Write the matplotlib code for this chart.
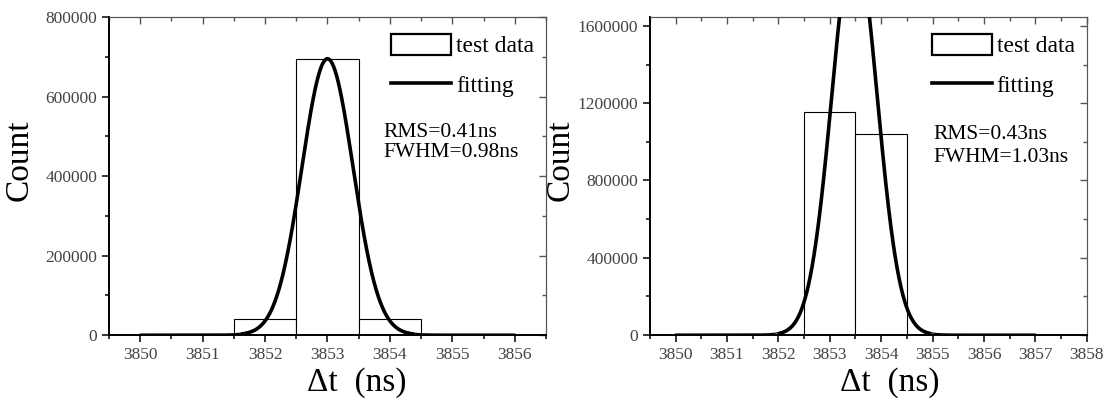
import numpy as np
import matplotlib.pyplot as plt
from matplotlib.ticker import MultipleLocator, FormatStrFormatter

plt.rcParams['font.family'] = ['Liberation Serif', 'DejaVu Serif']

# --- left panel: histogram + gaussian fit ---
left_edges = [3851.5, 3852.5, 3853.5]
left_counts = [40000, 695000, 40000]
left_fit = dict(center=3853.0, amp=695000, sigma=0.41)
left_range = (3850, 3856)
left_xlim = (3849.5, 3856.5)
left_ylim = (0, 800000)
left_text = ["RMS=0.41ns", "FWHM=0.98ns"]

# --- right panel ---
right_edges = [3852.5, 3853.5]
right_counts = [1155000, 1040000]
right_fit = dict(center=3853.48, amp=2050000, sigma=0.44)
right_range = (3850, 3857)
right_xlim = (3849.5, 3858)
right_ylim = (0, 1646000)
right_text = ["RMS=0.43ns", "FWHM=1.03ns"]

tick_col = "#444444"


def gauss(x, center, amp, sigma):
    return amp * np.exp(-(x - center) ** 2 / (2 * sigma ** 2))


def draw_panel(ax, edges, counts, fit, xrange_, xlim, ylim, ystep, texts, tx, ty):
    bars = ax.bar(edges, counts, width=1.0, align='edge', facecolor='white',
                  edgecolor='black', linewidth=0.8, zorder=2)
    xs = np.linspace(xrange_[0], xrange_[1], 1500)
    ys = gauss(xs, **fit)
    # thin baseline where the fit is ~0, thick curve elsewhere
    ax.plot(xs, ys + ylim[1] * 0.003, color='black', lw=0.9, zorder=3)
    thick = np.where(ys > fit['amp'] * 0.004, ys, np.nan)
    line, = ax.plot(xs, thick, color='black', lw=2.6, zorder=4)

    ax.set_xlim(*xlim)
    ax.set_ylim(*ylim)
    ax.xaxis.set_major_locator(MultipleLocator(1))
    ax.xaxis.set_minor_locator(MultipleLocator(0.5))
    ax.yaxis.set_major_locator(MultipleLocator(ystep))
    ax.yaxis.set_minor_locator(MultipleLocator(ystep / 2))
    ax.yaxis.set_major_formatter(FormatStrFormatter('%d'))
    ax.xaxis.set_major_formatter(FormatStrFormatter('%d'))
    ax.tick_params(which='both', direction='out', top=False, right=False,
                   labelsize=12.5, labelcolor=tick_col, width=1.1)
    ax.tick_params(which='major', length=5)
    ax.tick_params(which='minor', length=3)

    top = ax.secondary_xaxis('top')
    top.xaxis.set_major_locator(MultipleLocator(1))
    top.xaxis.set_minor_locator(MultipleLocator(0.5))
    top.tick_params(which='both', direction='in', labeltop=False, width=1.0, color='#555555')
    top.tick_params(which='major', length=5)
    top.tick_params(which='minor', length=3)
    top.spines['top'].set_color('#555555')
    right = ax.secondary_yaxis('right')
    right.yaxis.set_major_locator(MultipleLocator(ystep))
    right.yaxis.set_minor_locator(MultipleLocator(ystep / 2))
    right.tick_params(which='both', direction='in', labelright=False, width=1.0, color='#555555')
    right.tick_params(which='major', length=5)
    right.tick_params(which='minor', length=3)
    right.spines['right'].set_color('#555555')

    for s in ['left', 'bottom']:
        ax.spines[s].set_linewidth(1.4)
    ax.spines['top'].set_color('#555555')
    ax.spines['right'].set_color('#555555')

    ax.set_ylabel("Count", fontsize=24)
    ax.yaxis.set_label_coords(-0.171, 0.55)
    ax.set_xlabel("Δt  (ns)", fontsize=24)

    leg = ax.legend([bars, line], ['test data', 'fitting'], loc='upper left',
                    bbox_to_anchor=(0.645, 0.948), frameon=False,
                    fontsize=17, handlelength=2.55, handleheight=1.0,
                    handletextpad=0.2, labelspacing=0.7, borderpad=0, borderaxespad=0)
    leg.get_patches()[0].set_linewidth(1.6)

    ax.text(tx, ty[0], texts[0], transform=ax.transAxes, fontsize=15.5, va='center')
    ax.text(tx, ty[1], texts[1], transform=ax.transAxes, fontsize=15.5, va='center')


fig = plt.figure(figsize=(11.09, 4.03), dpi=100)
ax1 = fig.add_axes([0.0983, 0.1687, 0.394, 0.789])
ax2 = fig.add_axes([0.586, 0.1687, 0.394, 0.789])

draw_panel(ax1, left_edges, left_counts, left_fit, left_range, left_xlim, left_ylim,
           200000, left_text, 0.627, (0.638, 0.574))
ax1.xaxis.set_label_coords(0.567, -0.10)

draw_panel(ax2, right_edges, right_counts, right_fit, right_range, right_xlim, right_ylim,
           400000, right_text, 0.648, (0.632, 0.557))
ax2.xaxis.set_label_coords(0.549, -0.10)

fig.savefig("out.png", dpi=100)
